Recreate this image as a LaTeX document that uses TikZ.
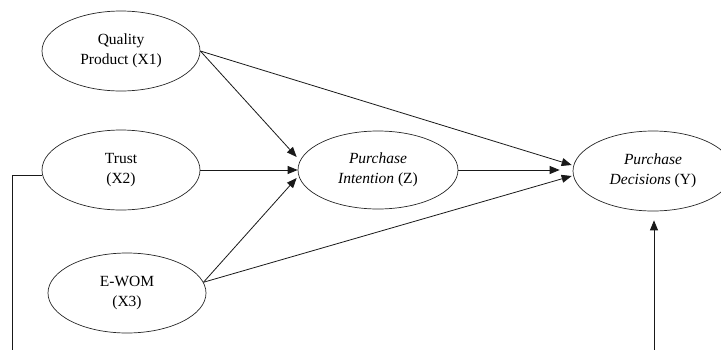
\documentclass[tikz,border=0pt]{standalone}
\usepackage{fontspec}
\setmainfont{Liberation Serif}
\usetikzlibrary{shapes.geometric,arrows.meta,calc}
\tikzset{
  var/.style={draw=black!85, ellipse, line width=0.7pt, minimum width=158pt, minimum height=80pt, inner sep=0pt, align=center, font=\fontsize{15.5}{20}\selectfont},
  arr/.style={draw=black!90, line width=0.8pt, -{Triangle[length=10pt,width=8pt]}},
  ln/.style={draw=black!90, line width=0.8pt}
}
\begin{document}
\begin{tikzpicture}[x=1pt,y=-1pt]
\useasboundingbox (0,0) rectangle (721,349);
\clip (0,0) rectangle (721,349);
\node[var] (X1) at (121,51) {Quality\\Product (X1)};
\node[var] (X2) at (121,170) {Trust\\(X2)};
\node[var] (X3) at (127,293) {E-WOM\\(X3)};
\node[var, minimum width=160pt, minimum height=78pt] (Z) at (378,170) {\textit{Purchase}\\\textit{Intention} (Z)};
\node[var, minimum width=160pt] (Y) at (653,171) {\textit{Purchase}\\\textit{Decisions} (Y)};
\coordinate (zt1) at ($(Z.west)+(-1,-13)$);
\coordinate (zt3) at ($(Z.west)+(-1,8)$);
\coordinate (yt1) at ($(Y.west)+(-1,-6)$);
\coordinate (yt2) at ($(Y.west)+(-13,-1)$);
\coordinate (yt3) at ($(Y.west)+(-1,5)$);
\coordinate (ytb) at ($(Y.south)+(1,9)$);
\coordinate (low) at (12,400);
\draw[arr] (X1.east) -- (zt1);
\draw[arr] (X1.east) -- (yt1);
\draw[arr] (X2.east) -- (Z.west);
\draw[arr] (X3.8) -- (zt3);
\draw[arr] (X3.8) -- (yt3);
\draw[arr] (Z.east) -- (yt2);
\draw[arr] (X2.184) -| (low) -| (ytb);
\end{tikzpicture}
\end{document}
